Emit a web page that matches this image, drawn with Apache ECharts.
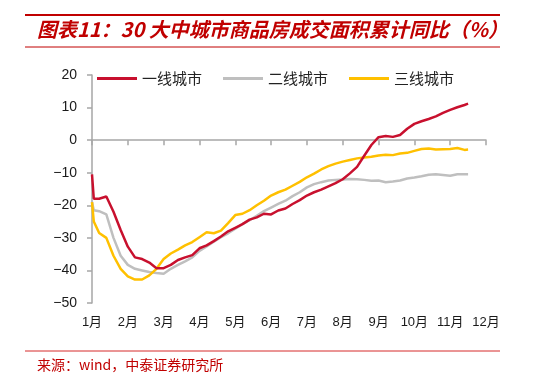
<!DOCTYPE html>
<html>
<head>
<meta charset="utf-8">
<script src="https://cdn.jsdelivr.net/npm/echarts@6/dist/echarts.min.js"></script>
<style>
html,body{margin:0;padding:0;background:#fff;}
#c{width:544px;height:384px;}
</style>
</head>
<body>
<div id="c"></div>
<script>
// month position (0 = 1月 ... 11 = 12月)
var months = [0, 0.05, 0.2, 0.4, 0.6, 0.8, 1.0, 1.2, 1.4, 1.6, 1.8, 2.0, 2.2, 2.4, 2.6, 2.8, 3.0,
  3.2, 3.4, 3.6, 3.8, 4.0, 4.2, 4.4, 4.6, 4.8, 5.0, 5.2, 5.4, 5.6, 5.8, 6.0, 6.2, 6.4, 6.6, 6.8,
  7.0, 7.2, 7.4, 7.6, 7.8, 8.0, 8.2, 8.4, 8.6, 8.8, 9.0, 9.2, 9.4, 9.6, 9.8, 10.0, 10.2, 10.4, 10.5];
var tier1 = [-10.5, -18, -18, -17.3, -22, -27.6, -32.7, -36, -36.5, -37.6, -39.3, -39.3, -38.3, -36.8, -36, -35.3, -33.2,
  -32.3, -31.0, -29.6, -28.0, -26.9, -25.8, -24.4, -23.7, -22.6, -22.8, -21.6, -21.0, -19.6, -18.4, -17.0, -16.0, -15.2, -14.2, -13.2,
  -12.0, -10.2, -8.2, -4.8, -1.5, 0.9, 1.3, 1.0, 1.6, 3.5, 5.0, 5.8, 6.5, 7.3, 8.4, 9.3, 10.1, 10.8, 11.2];
var tier2 = [-19, -21.5, -21.8, -22.8, -30, -35.5, -38.3, -39.5, -40, -40.5, -40.8, -41, -39.5, -38.3, -37.2, -36.0, -34.0,
  -32.6, -31.2, -29.8, -28.6, -27.2, -25.8, -24.6, -23.2, -21.8, -20.7, -19.6, -18.6, -17.2, -16.0, -14.5, -13.5, -12.9, -12.4, -12.2,
  -12.1, -11.9, -12.0, -12.2, -12.5, -12.4, -12.9, -12.7, -12.4, -11.8, -11.5, -11.1, -10.6, -10.5, -10.7, -10.9, -10.5, -10.5, -10.5];
var tier3 = [-19, -25, -28.5, -30.0, -35.5, -39.5, -41.8, -42.8, -42.8, -41.5, -39.5, -36.5, -34.8, -33.6, -32.3, -31.3, -29.8,
  -28.3, -28.6, -27.8, -25.5, -23.0, -22.6, -21.5, -20.0, -18.6, -17.0, -16.0, -15.2, -14.0, -12.8, -11.4, -10.3, -9.0, -8.0, -7.2,
  -6.6, -6.1, -5.6, -5.3, -5.1, -4.7, -4.5, -4.6, -4.1, -3.9, -3.3, -2.7, -2.6, -2.9, -2.8, -2.7, -2.4, -3.0, -2.9];
var seriesNames = ['一线城市', '二线城市', '三线城市'];
var monthLabels = ['1月','2月','3月','4月','5月','6月','7月','8月','9月','10月','11月','12月'];
var titleText = '图表11：30 大中城市商品房成交面积累计同比（%）';
var sourceText = '来源：wind，中泰证券研究所';

var colors = ['#C8102E', '#BFBFBF', '#FFC000'];
function pairs(arr){ return months.map(function(m,i){ return [m, arr[i]]; }); }
var lineFont = "'Liberation Sans', 'Noto Sans CJK SC', sans-serif";

var chart = echarts.init(document.getElementById('c'), null, {renderer:'canvas'});
chart.setOption({
  animation: false,
  backgroundColor: '#fff',
  grid: {left: 92, right: 58, top: 75, bottom: 81, containLabel: false},
  legend: {
    left: 97, top: 71, padding: 0,
    icon: 'rect', itemWidth: 40, itemHeight: 3, itemGap: 21,
    textStyle: {fontFamily: "'Noto Sans CJK SC', sans-serif", fontSize: 15, color: '#222'},
    data: seriesNames
  },
  xAxis: [{
    type: 'value', min: 0, max: 11, interval: 1,
    axisLine: {onZero: true, lineStyle: {color: '#A6A6A6', width: 1.5}},
    axisTick: {show: true, inside: false, length: 5, lineStyle: {color: '#A6A6A6', width: 1.5}},
    axisLabel: {show: false},
    splitLine: {show: false}
  }, {
    type: 'value', min: 0, max: 11, interval: 1, position: 'bottom',
    axisLine: {show: false, onZero: false},
    axisTick: {show: false},
    axisLabel: {margin: 13, fontSize: 13, color: '#1a1a1a', fontFamily: lineFont,
      formatter: function(v){ return monthLabels[Math.round(v)] || ''; }},
    splitLine: {show: false}
  }],
  yAxis: {
    type: 'value', min: -50, max: 20, interval: 10,
    axisLine: {show: true, lineStyle: {color: '#A6A6A6', width: 1.5}},
    axisTick: {show: true, length: 5, lineStyle: {color: '#A6A6A6', width: 1.5}},
    axisLabel: {margin: 15, fontSize: 14, color: '#1a1a1a', fontFamily: lineFont,
      formatter: function(v){ return String(v).replace('-', '\u2212'); }},
    splitLine: {show: false}
  },
  series: [tier1, tier2, tier3].map(function(arr, i){
    return {
      name: seriesNames[i], type: 'line', xAxisIndex: 0, data: pairs(arr),
      showSymbol: false, symbol: 'none', smooth: false,
      lineStyle: {color: colors[i], width: 2.5},
      itemStyle: {color: colors[i]},
      z: i === 0 ? 5 : (i === 2 ? 4 : 3)
    };
  }),
  graphic: [
    {type: 'line', shape: {x1: 25, y1: 15, x2: 500, y2: 15}, style: {stroke: '#C00000', lineWidth: 2}},
    {type: 'line', shape: {x1: 25, y1: 47, x2: 500, y2: 47}, style: {stroke: '#C00000', lineWidth: 1}},
    {type: 'text', left: 37, top: 19, style: {text: titleText, fill: '#C00000',
      font: "italic bold 20px 'Noto Sans CJK SC', sans-serif"}},
    {type: 'line', shape: {x1: 25, y1: 351, x2: 500, y2: 351}, style: {stroke: '#D62B2B', lineWidth: 1}},
    {type: 'text', left: 37, top: 358, style: {text: sourceText, fill: '#C00000',
      font: "14px 'Noto Sans CJK SC', sans-serif"}}
  ]
});
</script>
</body>
</html>
